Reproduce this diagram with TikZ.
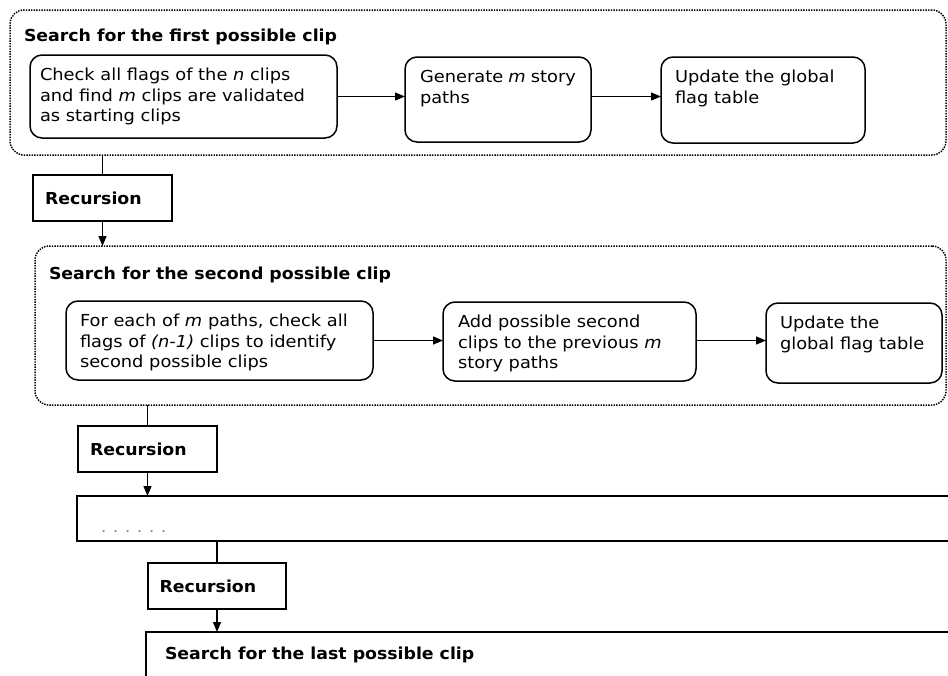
\documentclass[tikz,border=0pt]{standalone}
\usepackage{fontspec}
\setmainfont{DejaVu Sans}[FakeStretch=1.08,BoldFeatures={FakeStretch=1.05}]
\usetikzlibrary{arrows.meta}
\newcommand\bxt[3]{\parbox[c][#1][t]{#2}{\raggedright\rule{0pt}{25.5pt}#3}}
\begin{document}
\begin{tikzpicture}[x=1pt,y=-1pt,
  every node/.style={font=\fontsize{16.5}{20.5}\selectfont, outer sep=0pt},
  grp/.style={draw, line width=1.5pt, dash pattern=on 1.4pt off 1.2pt, rounded corners=14pt, anchor=north west, inner sep=0pt},
  proc/.style={draw, line width=1.5pt, rounded corners=12pt, anchor=north west, inner ysep=0pt},
  rec/.style={draw, line width=1.5pt, anchor=north west, minimum height=46pt, text width=115pt, inner xsep=12pt, align=left, font=\fontsize{16.5}{20.5}\selectfont\bfseries},
  plainbox/.style={draw, line width=1.5pt, anchor=north west, inner sep=0pt},
  ttl/.style={anchor=base west, inner sep=0pt, font=\fontsize{16.5}{20.5}\selectfont\bfseries},
  conn/.style={line width=1.3pt},
  arr/.style={line width=1.3pt, -{Triangle[length=10pt,width=8pt]}}
]
\useasboundingbox (0,0) rectangle (948,675);
\clip (0,0) rectangle (948,675);
\fill[white] (0,0) rectangle (948,675);

% first group
\node[grp, minimum width=936pt, minimum height=145pt] (g1) at (10,10) {};
\node[ttl] (t1) at (24,41) {Search for the first possible clip};
\node[proc, inner xsep=10pt] (a1) at (30,55) {\bxt{83pt}{287pt}{Check all flags of the \textit{n} clips\\and find \textit{m} clips are validated\\as starting clips}};
\node[proc, inner xsep=15pt] (a2) at (405,57) {\bxt{85pt}{156pt}{Generate \textit{m} story\\paths}};
\node[proc, inner xsep=14pt] (a3) at (661,57) {\bxt{86pt}{176pt}{Update the global\\flag table}};

\node[rec] (r1) at (33,175) {Recursion};

% second group
\node[grp, minimum width=911pt, minimum height=159pt] (g2) at (35,246) {};
\node[ttl] (t2) at (49,279) {Search for the second possible clip};
\node[proc, inner xsep=14pt] (b1) at (66,301) {\bxt{79pt}{279pt}{For each of \textit{m} paths, check all\\flags of \textit{(n-1)} clips to identify\\second possible clips}};
\node[proc, inner xsep=15pt] (b2) at (443,302) {\bxt{79pt}{223pt}{Add possible second\\clips to the previous \textit{m}\\story paths}};
\node[proc, inner xsep=14pt] (b3) at (766,303) {\bxt{80pt}{148pt}{Update the\\global flag table}};

\node[rec] (r2) at (78,426) {Recursion};

% dots box
\node[plainbox, minimum width=900pt, minimum height=45pt] (d) at (77,496) {};
\node[anchor=base west, inner sep=0pt, text=gray, font=\fontsize{15}{18}\selectfont] (dots) at (101,532) {. . . . . .};

\node[rec, inner xsep=11.5pt] (r3) at (148,563) {Recursion};

% last box
\node[plainbox, minimum width=850pt, minimum height=80pt] (last) at (146,632) {};
\node[ttl] (t3) at (165,659) {Search for the last possible clip};

% connectors
\draw[arr] (a1.east) -- (a1.east -| a2.west);
\draw[arr] (a1.east -| a2.east) -- (a1.east -| a3.west);
\draw[conn] (r1.north |- g1.south) -- (r1.north);
\draw[arr] (r1.south) -- (r1.south |- g2.north);
\draw[arr] (b1.east) -- (b1.east -| b2.west);
\draw[arr] (b1.east -| b2.east) -- (b1.east -| b3.west);
\draw[conn] (r2.north |- g2.south) -- (r2.north);
\draw[arr] (r2.south) -- (r2.south |- d.north);
\draw[conn] (r3.north |- d.south) -- (r3.north);
\draw[arr] (r3.south) -- (r3.south |- last.north);
\end{tikzpicture}
\end{document}
